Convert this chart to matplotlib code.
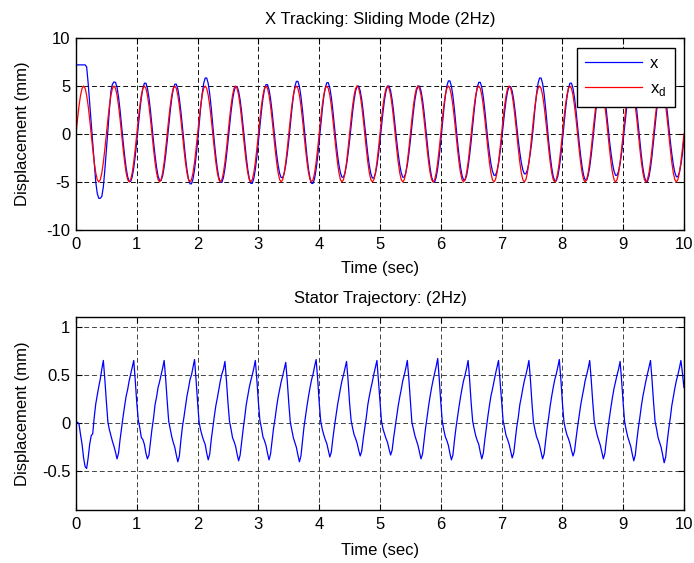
import matplotlib
matplotlib.use("Agg")
import matplotlib.pyplot as plt
import numpy as np

plt.rcParams["font.family"] = ["Liberation Sans", "DejaVu Sans"]
plt.rcParams["mathtext.fontset"] = "custom"
plt.rcParams["mathtext.rm"] = "Liberation Sans"
plt.rcParams["axes.unicode_minus"] = False

# ---- data (sampled every 0.025 s, one row per 0.5 s cycle) ----
t_end = 10.0
n_samples = 401

x_desired = [
    0, 1.545, 2.939, 4.045, 4.755, 5, 4.755, 4.045, 2.939, 1.545, 0, -1.545, -2.939, -4.045, -4.755, -5, -4.755, -4.045, -2.939, -1.545,
    0, 1.545, 2.939, 4.045, 4.755, 5, 4.755, 4.045, 2.939, 1.545, 0, -1.545, -2.939, -4.045, -4.755, -5, -4.755, -4.045, -2.939, -1.545,
    0, 1.545, 2.939, 4.045, 4.755, 5, 4.755, 4.045, 2.939, 1.545, 0, -1.545, -2.939, -4.045, -4.755, -5, -4.755, -4.045, -2.939, -1.545,
    0, 1.545, 2.939, 4.045, 4.755, 5, 4.755, 4.045, 2.939, 1.545, 0, -1.545, -2.939, -4.045, -4.755, -5, -4.755, -4.045, -2.939, -1.545,
    0, 1.545, 2.939, 4.045, 4.755, 5, 4.755, 4.045, 2.939, 1.545, 0, -1.545, -2.939, -4.045, -4.755, -5, -4.755, -4.045, -2.939, -1.545,
    0, 1.545, 2.939, 4.045, 4.755, 5, 4.755, 4.045, 2.939, 1.545, 0, -1.545, -2.939, -4.045, -4.755, -5, -4.755, -4.045, -2.939, -1.545,
    0, 1.545, 2.939, 4.045, 4.755, 5, 4.755, 4.045, 2.939, 1.545, 0, -1.545, -2.939, -4.045, -4.755, -5, -4.755, -4.045, -2.939, -1.545,
    0, 1.545, 2.939, 4.045, 4.755, 5, 4.755, 4.045, 2.939, 1.545, 0, -1.545, -2.939, -4.045, -4.755, -5, -4.755, -4.045, -2.939, -1.545,
    0, 1.545, 2.939, 4.045, 4.755, 5, 4.755, 4.045, 2.939, 1.545, 0, -1.545, -2.939, -4.045, -4.755, -5, -4.755, -4.045, -2.939, -1.545,
    0, 1.545, 2.939, 4.045, 4.755, 5, 4.755, 4.045, 2.939, 1.545, 0, -1.545, -2.939, -4.045, -4.755, -5, -4.755, -4.045, -2.939, -1.545,
    0, 1.545, 2.939, 4.045, 4.755, 5, 4.755, 4.045, 2.939, 1.545, 0, -1.545, -2.939, -4.045, -4.755, -5, -4.755, -4.045, -2.939, -1.545,
    0, 1.545, 2.939, 4.045, 4.755, 5, 4.755, 4.045, 2.939, 1.545, 0, -1.545, -2.939, -4.045, -4.755, -5, -4.755, -4.045, -2.939, -1.545,
    0, 1.545, 2.939, 4.045, 4.755, 5, 4.755, 4.045, 2.939, 1.545, 0, -1.545, -2.939, -4.045, -4.755, -5, -4.755, -4.045, -2.939, -1.545,
    0, 1.545, 2.939, 4.045, 4.755, 5, 4.755, 4.045, 2.939, 1.545, 0, -1.545, -2.939, -4.045, -4.755, -5, -4.755, -4.045, -2.939, -1.545,
    0, 1.545, 2.939, 4.045, 4.755, 5, 4.755, 4.045, 2.939, 1.545, 0, -1.545, -2.939, -4.045, -4.755, -5, -4.755, -4.045, -2.939, -1.545,
    0, 1.545, 2.939, 4.045, 4.755, 5, 4.755, 4.045, 2.939, 1.545, 0, -1.545, -2.939, -4.045, -4.755, -5, -4.755, -4.045, -2.939, -1.545,
    0, 1.545, 2.939, 4.045, 4.755, 5, 4.755, 4.045, 2.939, 1.545, 0, -1.545, -2.939, -4.045, -4.755, -5, -4.755, -4.045, -2.939, -1.545,
    0, 1.545, 2.939, 4.045, 4.755, 5, 4.755, 4.045, 2.939, 1.545, 0, -1.545, -2.939, -4.045, -4.755, -5, -4.755, -4.045, -2.939, -1.545,
    0, 1.545, 2.939, 4.045, 4.755, 5, 4.755, 4.045, 2.939, 1.545, 0, -1.545, -2.939, -4.045, -4.755, -5, -4.755, -4.045, -2.939, -1.545,
    0, 1.545, 2.939, 4.045, 4.755, 5, 4.755, 4.045, 2.939, 1.545, 0, -1.545, -2.939, -4.045, -4.755, -5, -4.755, -4.045, -2.939, -1.545,
    0,
]

x_measured = [
    7.2, 7.2, 7.2, 7.2, 7.2, 7.2, 7.2, 7.0, 5.3, 3.2, 1.1, -0.9, -2.9, -5.0, -6.2, -6.7, -6.7, -6.5, -5.5, -3.7,
    -1.7, 0.4, 2.6, 4.5, 5.2, 5.42, 5.38, 4.86, 3.85, 2.47, 0.85, -0.78, -2.27, -3.54, -4.46, -4.94, -4.94, -4.46, -3.54, -2.27,
    -0.78, 0.83, 2.43, 3.78, 4.77, 5.29, 5.29, 4.77, 3.78, 2.43, 0.83, -0.76, -2.22, -3.46, -4.37, -4.84, -4.84, -4.37, -3.46, -2.22,
    -0.76, 0.82, 2.38, 3.71, 4.68, 5.19, 5.19, 4.68, 3.71, 2.38, 0.82, -0.82, -2.38, -3.71, -4.68, -5.19, -5.19, -4.68, -3.71, -2.38,
    -0.82, 0.92, 2.68, 4.17, 5.26, 5.83, 5.83, 5.26, 4.17, 2.68, 0.92, -0.80, -2.32, -3.61, -4.54, -5.04, -5.04, -4.54, -3.61, -2.32,
    -0.80, 0.78, 2.27, 3.54, 4.46, 4.94, 4.94, 4.46, 3.54, 2.27, 0.78, -0.81, -2.36, -3.68, -4.63, -5.14, -5.14, -4.63, -3.68, -2.36,
    -0.81, 0.81, 2.36, 3.68, 4.63, 5.14, 5.14, 4.63, 3.68, 2.36, 0.81, -0.72, -2.09, -3.25, -4.10, -4.54, -4.54, -4.10, -3.25, -2.09,
    -0.72, 0.87, 2.52, 3.92, 4.95, 5.48, 5.48, 4.95, 3.92, 2.52, 0.87, -0.81, -2.36, -3.68, -4.63, -5.14, -5.14, -4.63, -3.68, -2.36,
    -0.81, 0.84, 2.45, 3.82, 4.81, 5.34, 5.34, 4.81, 3.82, 2.45, 0.84, -0.71, -2.07, -3.22, -4.05, -4.50, -4.50, -4.05, -3.22, -2.07,
    -0.71, 0.79, 2.29, 3.57, 4.50, 4.99, 4.99, 4.50, 3.57, 2.29, 0.79, -0.73, -2.11, -3.29, -4.14, -4.59, -4.59, -4.14, -3.29, -2.11,
    -0.73, 0.79, 2.29, 3.57, 4.50, 4.99, 4.99, 4.50, 3.57, 2.29, 0.79, -0.71, -2.07, -3.22, -4.05, -4.50, -4.50, -4.05, -3.22, -2.07,
    -0.71, 0.79, 2.29, 3.57, 4.50, 4.99, 4.99, 4.50, 3.57, 2.29, 0.79, -0.79, -2.29, -3.57, -4.50, -4.99, -4.99, -4.50, -3.57, -2.29,
    -0.79, 0.87, 2.54, 3.96, 4.99, 5.53, 5.53, 4.99, 3.96, 2.54, 0.87, -0.76, -2.20, -3.43, -4.32, -4.79, -4.79, -4.32, -3.43, -2.20,
    -0.76, 0.85, 2.47, 3.85, 4.86, 5.38, 5.38, 4.86, 3.85, 2.47, 0.85, -0.68, -1.97, -3.08, -3.88, -4.30, -4.30, -3.88, -3.08, -1.97,
    -0.68, 0.78, 2.27, 3.54, 4.46, 4.94, 4.94, 4.46, 3.54, 2.27, 0.78, -0.66, -1.91, -2.97, -3.74, -4.15, -4.15, -3.74, -2.97, -1.91,
    -0.66, 0.92, 2.68, 4.17, 5.26, 5.83, 5.83, 5.26, 4.17, 2.68, 0.92, -0.77, -2.25, -3.50, -4.41, -4.89, -4.89, -4.41, -3.50, -2.25,
    -0.77, 0.83, 2.43, 3.78, 4.77, 5.29, 5.29, 4.77, 3.78, 2.43, 0.83, -0.76, -2.20, -3.43, -4.32, -4.79, -4.79, -4.32, -3.43, -2.20,
    -0.76, 0.81, 2.36, 3.68, 4.63, 5.14, 5.14, 4.63, 3.68, 2.36, 0.81, -0.68, -1.97, -3.08, -3.88, -4.30, -4.30, -3.88, -3.08, -1.97,
    -0.68, 0.83, 2.41, 3.75, 4.72, 5.24, 5.24, 4.72, 3.75, 2.41, 0.83, -0.78, -2.27, -3.54, -4.46, -4.94, -4.94, -4.46, -3.54, -2.27,
    -0.78, 0.81, 2.36, 3.68, 4.63, 5.14, 5.14, 4.63, 3.68, 2.36, 0.81, -0.70, -2.04, -3.18, -4.01, -4.45, -4.45, -4.01, -3.18, -2.04,
    -0.5,
]

stator = [
    0.00, 0.01, -0.01, -0.12, -0.22, -0.36, -0.45, -0.47, -0.36, -0.22, -0.13, -0.11, 0.06, 0.20, 0.29, 0.38, 0.46, 0.56, 0.65, 0.45,
    0.22, 0.01, -0.07, -0.13, -0.19, -0.24, -0.30, -0.37, -0.31, -0.17, -0.05, 0.07, 0.18, 0.28, 0.35, 0.44, 0.51, 0.58, 0.65, 0.44,
    0.21, 0.03, -0.05, -0.15, -0.17, -0.22, -0.31, -0.37, -0.33, -0.19, -0.06, 0.05, 0.19, 0.27, 0.37, 0.43, 0.50, 0.57, 0.65, 0.46,
    0.23, 0.02, -0.06, -0.14, -0.20, -0.25, -0.33, -0.40, -0.34, -0.18, -0.04, 0.06, 0.17, 0.28, 0.36, 0.45, 0.50, 0.58, 0.66, 0.45,
    0.22, 0.01, -0.07, -0.13, -0.18, -0.22, -0.31, -0.38, -0.32, -0.17, -0.05, 0.07, 0.18, 0.26, 0.35, 0.44, 0.51, 0.56, 0.64, 0.44,
    0.21, 0.02, -0.06, -0.15, -0.19, -0.24, -0.32, -0.39, -0.33, -0.19, -0.06, 0.06, 0.19, 0.28, 0.37, 0.44, 0.50, 0.57, 0.65, 0.45,
    0.22, 0.03, -0.05, -0.14, -0.18, -0.23, -0.31, -0.38, -0.32, -0.18, -0.05, 0.05, 0.17, 0.27, 0.35, 0.43, 0.49, 0.56, 0.63, 0.44,
    0.21, 0.01, -0.07, -0.15, -0.20, -0.25, -0.33, -0.40, -0.34, -0.19, -0.04, 0.07, 0.18, 0.28, 0.37, 0.45, 0.51, 0.59, 0.66, 0.46,
    0.22, 0.02, -0.06, -0.12, -0.17, -0.21, -0.28, -0.35, -0.30, -0.16, -0.04, 0.07, 0.18, 0.27, 0.36, 0.44, 0.50, 0.57, 0.64, 0.45,
    0.21, 0.03, -0.05, -0.12, -0.16, -0.21, -0.28, -0.34, -0.29, -0.16, -0.05, 0.06, 0.19, 0.28, 0.36, 0.43, 0.51, 0.58, 0.65, 0.44,
    0.22, 0.02, -0.06, -0.11, -0.16, -0.20, -0.27, -0.33, -0.28, -0.15, -0.04, 0.07, 0.18, 0.27, 0.35, 0.44, 0.50, 0.57, 0.65, 0.46,
    0.23, 0.01, -0.06, -0.13, -0.18, -0.23, -0.30, -0.37, -0.32, -0.18, -0.05, 0.06, 0.18, 0.28, 0.37, 0.45, 0.52, 0.59, 0.67, 0.46,
    0.22, 0.02, -0.07, -0.14, -0.18, -0.23, -0.31, -0.38, -0.33, -0.18, -0.05, 0.06, 0.17, 0.27, 0.36, 0.44, 0.50, 0.57, 0.65, 0.45,
    0.21, 0.02, -0.06, -0.13, -0.18, -0.22, -0.30, -0.37, -0.31, -0.17, -0.05, 0.07, 0.18, 0.28, 0.35, 0.43, 0.51, 0.58, 0.65, 0.44,
    0.22, 0.03, -0.05, -0.13, -0.17, -0.22, -0.29, -0.36, -0.31, -0.17, -0.04, 0.06, 0.19, 0.27, 0.36, 0.44, 0.50, 0.57, 0.65, 0.45,
    0.21, 0.01, -0.07, -0.14, -0.18, -0.23, -0.30, -0.37, -0.32, -0.18, -0.05, 0.06, 0.18, 0.28, 0.37, 0.45, 0.51, 0.58, 0.66, 0.46,
    0.22, 0.02, -0.06, -0.12, -0.16, -0.21, -0.28, -0.34, -0.29, -0.16, -0.04, 0.07, 0.18, 0.27, 0.35, 0.44, 0.50, 0.57, 0.65, 0.45,
    0.22, 0.02, -0.06, -0.13, -0.18, -0.23, -0.30, -0.37, -0.31, -0.17, -0.05, 0.06, 0.17, 0.27, 0.36, 0.43, 0.50, 0.56, 0.64, 0.44,
    0.21, 0.01, -0.07, -0.14, -0.19, -0.24, -0.32, -0.39, -0.33, -0.18, -0.05, 0.06, 0.18, 0.28, 0.36, 0.44, 0.51, 0.58, 0.65, 0.45,
    0.22, 0.02, -0.06, -0.15, -0.20, -0.25, -0.33, -0.41, -0.35, -0.19, -0.06, 0.05, 0.18, 0.27, 0.36, 0.44, 0.50, 0.57, 0.65, 0.52,
    0.37,
]

x_ticks = [0, 1, 2, 3, 4, 5, 6, 7, 8, 9, 10]
top_yticks = [-10, -5, 0, 5, 10]
bottom_yticks = [-0.5, 0, 0.5, 1]
bottom_yticklabels = ["-0.5", "0", "0.5", "1"]

time = np.linspace(0.0, t_end, n_samples)

FS = 12
fig = plt.figure(figsize=(6.94, 5.63), dpi=100)
ax1 = fig.add_axes([0.1095, 0.5915, 0.876, 0.341])
ax2 = fig.add_axes([0.1095, 0.0941, 0.876, 0.3428])


def style_axes(ax, grid_color):
    ax.set_xlim(0, 10)
    ax.set_xticks(x_ticks)
    ax.tick_params(direction="in", length=4, width=0.8, top=True, right=True,
                   labelsize=FS, colors="black")
    ax.tick_params(axis="x", pad=5)
    ax.tick_params(axis="y", pad=4)
    for s in ax.spines.values():
        s.set_linewidth(1.0)
        s.set_color("black")
    ax.grid(True, color=grid_color, linestyle=(0, (5, 3)), linewidth=0.7)
    ax.set_axisbelow(True)


# top panel: tracking
ax1.plot(time, x_measured, color="#0000FF", linewidth=0.9, label="x")
ax1.plot(time, x_desired, color="#FF0000", linewidth=0.9, label=r"x$_{\rm d}$")
style_axes(ax1, "#111111")
ax1.set_ylim(-10, 10)
ax1.set_yticks(top_yticks)
ax1.set_title("X Tracking: Sliding Mode (2Hz)", fontsize=FS, pad=10)
ax1.set_xlabel("Time (sec)", fontsize=FS)
ax1.set_ylabel("Displacement (mm)", fontsize=FS)
ax1.xaxis.set_label_coords(0.5, -0.16)
ax1.yaxis.set_label_coords(-0.075, 0.5)
leg = ax1.legend(loc="upper right", bbox_to_anchor=(0.985, 0.948), borderaxespad=0,
                 fontsize=FS, fancybox=False, framealpha=1, edgecolor="black",
                 handlelength=3.4, handletextpad=0.5, labelspacing=0.6, borderpad=0.5)
leg.get_frame().set_linewidth(1.0)

# bottom panel: stator
ax2.plot(time, stator, color="#0000FF", linewidth=0.9)
style_axes(ax2, "#444444")
ax2.set_ylim(-0.9, 1.1)
ax2.set_yticks(bottom_yticks)
ax2.set_yticklabels(bottom_yticklabels)
ax2.set_title("Stator Trajectory: (2Hz)", fontsize=FS, pad=10)
ax2.set_xlabel("Time (sec)", fontsize=FS)
ax2.set_ylabel("Displacement (mm)", fontsize=FS)
ax2.xaxis.set_label_coords(0.5, -0.17)
ax2.yaxis.set_label_coords(-0.075, 0.5)

fig.savefig("out.png", dpi=100)
